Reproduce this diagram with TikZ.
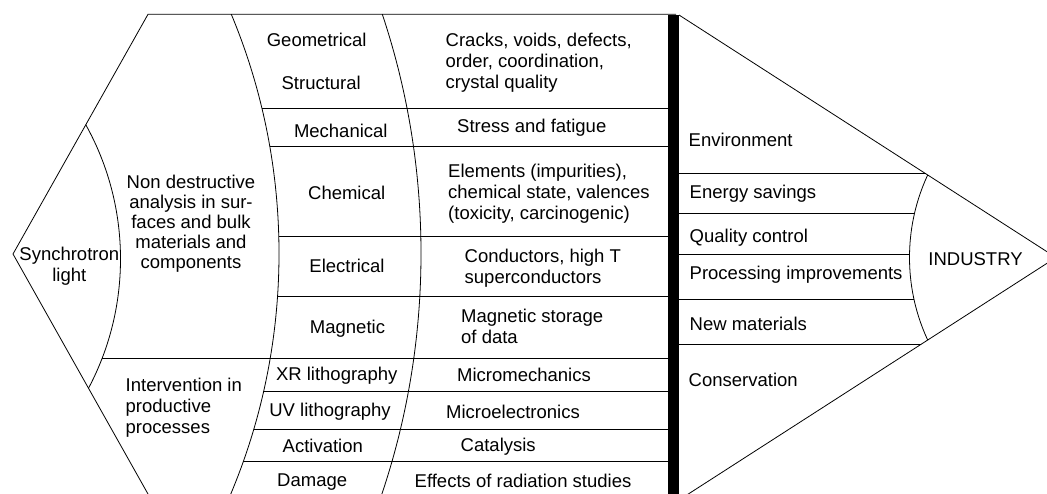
\documentclass[tikz,border=0pt]{standalone}
\usepackage{fontspec}
\setmainfont{Liberation Sans}
% x position on a circle (centre #1,#2, signed radius #3) at height #4
\pgfmathdeclarefunction{rx}{4}{\pgfmathparse{#1+#3*cos(asin((#4-#2)/#3))}}

\begin{document}
\begin{tikzpicture}[x=1pt,y=-1pt,
  rule/.style={line width=0.8pt},
  lbl/.style={font=\fontsize{18.5}{21}\selectfont, inner sep=0pt,
    execute at begin node=\strut, execute at end node=\strut},
  lblw/.style={lbl, anchor=west, align=left}]

\clip (0,0) rectangle (1047,493);

% ---------- left wedge ----------
\coordinate (wt) at (148,14.3);
\coordinate (wl) at (13,254);
\coordinate (wb) at (148,494);
\draw[rule] (676,14.3) -- (wt) -- (wl) -- (wb);

% inner arc around the source
\begin{scope}
  \clip (wt) -- (wl) -- (wb) -- (668,494) -- (668,14.3) -- cycle;
  \draw[rule] (-156,259) circle[radius=276.5pt];
\end{scope}

% the two column arcs
\begin{scope}
  \clip (0,14.3) rectangle (668,500);
  \draw[rule] (-342.5,253.5) circle[radius=621.5pt];
  \draw[rule] (-333.9,253.5) circle[radius=754.9pt];
\end{scope}

% row separators of the table
\foreach \y in {108.3,146.7,236.7,296.7,391.7,429.5,461.7}
  \draw[rule] ({rx(-342.5,253.5,621.5,\y)},\y) -- (668,\y);
\draw[rule] ({rx(-156,259,276.5,358.3)},358.3) -- (668,358.3);

% ---------- central bar ----------
\fill (668,15) rectangle (679,500);

% ---------- right wedge ----------
\coordinate (rt) at (679,15);
\coordinate (apex) at (1056,257.5);
\coordinate (rb) at (679,500);
\draw[rule] (rt) -- (apex) -- (rb);

\begin{scope}
  \clip (rt) -- (apex) -- (rb) -- cycle;
  \draw[rule] (1105.3,257.5) circle[radius=195.8pt];
\end{scope}

\draw[rule] (679,173.3) -- ({679+(173.3-15)/0.6432},173.3);
\foreach \y in {213.3,254,299}
  \draw[rule] (679,\y) -- ({rx(1105.3,257.5,-195.8,\y)},\y);
\draw[rule] (679,344.3) -- ({1056-(344.3-257.5)/0.6432},344.3);

% ---------- labels ----------
\node[lbl, align=center] (sync) at (69.3,267.4) {Synchrotron\\light};
\node[lbl, font=\fontsize{18.5}{20}\selectfont, align=center] (nda) at (191,224.3)
  {Non destructive\\analysis in sur-\\faces and bulk\\materials and\\components};
\node[lblw] (ipp) at (125.5,409.1) {Intervention in\\productive\\processes};

\node[lbl] (geo) at (316.7,42.5) {Geometrical};
\node[lbl] (str) at (321.2,85.1) {Structural};
\node[lbl] (mec) at (340.8,133.1) {Mechanical};
\node[lbl] (che) at (346.7,195.1) {Chemical};
\node[lbl] (ele) at (347,268.1) {Electrical};
\node[lbl] (mag) at (347.5,329.1) {Magnetic};
\node[lbl] (xrl) at (336.7,375.8) {XR lithography};
\node[lbl] (uvl) at (330,412.5) {UV lithography};
\node[lbl] (act) at (322.8,448.5) {Activation};
\node[lbl] (dam) at (312.2,482.5) {Damage};

\node[lblw] (crk) at (445.5,64.1) {Cracks, voids, defects,\\order, coordination,\\crystal quality};
\node[lblw] (sf) at (457,128.5) {Stress and fatigue};
\node[lblw] (elm) at (448,195.3) {Elements (impurities),\\chemical state, valences\\(toxicity, carcinogenic)};
\node[lblw] (cnd) at (464.5,269) {Conductors, high T\\superconductors};
\node[lblw] (mst) at (461,329.6) {Magnetic storage\\of data};
\node[lblw] (mme) at (457,376.8) {Micromechanics};
\node[lblw] (mel) at (446,414.1) {Microelectronics};
\node[lblw] (cat) at (460.5,447.5) {Catalysis};
\node[lblw] (eff) at (414.5,483.1) {Effects of radiation studies};

\node[lblw] (env) at (688.5,142.5) {Environment};
\node[lblw] (ens) at (689.5,194.1) {Energy savings};
\node[lblw] (qc)  at (689.5,238.5) {Quality control};
\node[lblw] (pim) at (689.5,275.1) {Processing improvements};
\node[lblw] (nm)  at (689.5,326.5) {New materials};
\node[lblw] (con) at (688.5,382.5) {Conservation};
\node[lbl] (ind) at (975.5,260.8) {INDUSTRY};
\end{tikzpicture}
\end{document}
